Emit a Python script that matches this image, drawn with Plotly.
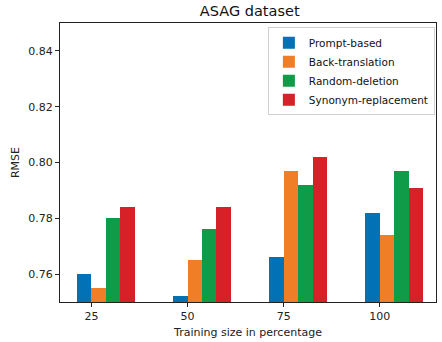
import plotly.graph_objects as go

# Training sizes (percent) and RMSE per augmentation method
sizes = ["25", "50", "75", "100"]
prompt_based = [0.760, 0.752, 0.766, 0.782]
back_translation = [0.755, 0.765, 0.797, 0.774]
random_deletion = [0.780, 0.776, 0.792, 0.797]
synonym_replacement = [0.784, 0.784, 0.802, 0.791]

series = [
    ("Prompt-based", prompt_based, "#0271b5"),
    ("Back-translation", back_translation, "#f07e26"),
    ("Random-deletion", random_deletion, "#0f9b48"),
    ("Synonym-replacement", synonym_replacement, "#d62129"),
]

width = 0.15
base = list(range(len(sizes)))

fig = go.Figure()
for k, (name, vals, color) in enumerate(series):
    xs = [i - width / 2 + k * width for i in base]
    fig.add_trace(go.Bar(
        x=xs, y=vals, name=name, width=width,
        marker=dict(color=color, line=dict(width=0)),
    ))

font_family = "DejaVu Sans"
fig.update_layout(
    width=442, height=342,
    margin=dict(l=60, r=5, t=23, b=35),
    paper_bgcolor="white", plot_bgcolor="white",
    font=dict(family=font_family, size=11, color="#222"),
    title=dict(text="ASAG dataset", x=0.565, xanchor="center", y=0.967, yanchor="middle",
               font=dict(size=14.5, color="#111")),
    barmode="overlay",
    bargap=0,
    showlegend=True,
    legend=dict(x=0.997, y=0.985, xanchor="right", yanchor="top",
                bordercolor="#d0d0d0", borderwidth=1, bgcolor="rgba(255,255,255,0.9)",
                font=dict(size=10.5, color="#111"), tracegroupgap=0, itemwidth=30),
)
fig.update_xaxes(
    range=[-0.327, 3.584],
    tickvals=base, ticktext=sizes,
    showline=True, linecolor="#222", linewidth=1, mirror=True,
    ticks="outside", ticklen=4, tickcolor="#222",
    showgrid=False, zeroline=False,
    title=dict(text="Training size in percentage", standoff=6, font=dict(size=11)),
)
fig.update_yaxes(
    range=[0.75, 0.85],
    tickvals=[0.76, 0.78, 0.80, 0.82, 0.84],
    ticktext=["0.76", "0.78", "0.80", "0.82", "0.84"],
    showline=True, linecolor="#222", linewidth=1, mirror=True,
    ticks="outside", ticklen=4, tickcolor="#222",
    showgrid=False, zeroline=False,
    title=dict(text="RMSE", standoff=6, font=dict(size=11)),
)

fig.write_html("out.html")
